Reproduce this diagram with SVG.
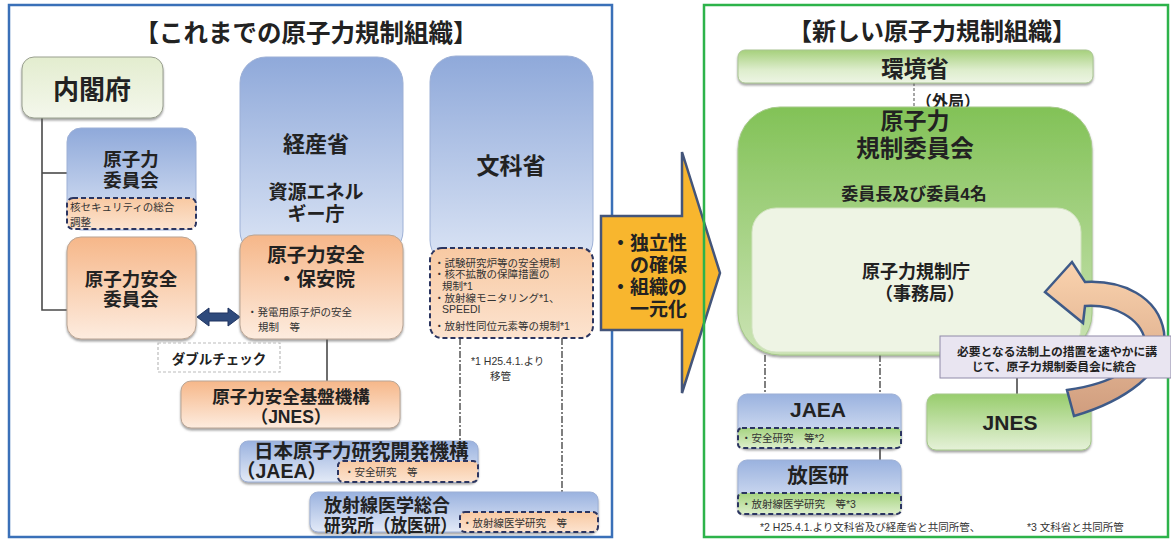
<svg xmlns="http://www.w3.org/2000/svg" width="1171" height="540" viewBox="0 0 1171 540">
<defs>
<linearGradient id="gBlue" x1="0" y1="0" x2="0" y2="1"><stop offset="0" stop-color="#8FA9DA"/><stop offset="1" stop-color="#DCE5F5"/></linearGradient>
<linearGradient id="gBlueS" x1="0" y1="0" x2="0" y2="1"><stop offset="0" stop-color="#9AB2DF"/><stop offset="1" stop-color="#E3EAF7"/></linearGradient>
<linearGradient id="gOrange" x1="0" y1="0" x2="0" y2="1"><stop offset="0" stop-color="#F6B789"/><stop offset="1" stop-color="#FDECDF"/></linearGradient>
<linearGradient id="gOrangeD" x1="0" y1="0" x2="0" y2="1"><stop offset="0" stop-color="#F8C9A2"/><stop offset="1" stop-color="#FCE3CF"/></linearGradient>
<linearGradient id="gCab" x1="0" y1="0" x2="0" y2="1"><stop offset="0" stop-color="#E3EDCF"/><stop offset="1" stop-color="#F4F7EC"/></linearGradient>
<linearGradient id="gEnv" x1="0" y1="0" x2="0" y2="1"><stop offset="0" stop-color="#A6D07C"/><stop offset="0.6" stop-color="#DDEDCC"/><stop offset="1" stop-color="#EDF5E4"/></linearGradient>
<linearGradient id="gNRA" x1="0" y1="0" x2="0" y2="1"><stop offset="0" stop-color="#82C257"/><stop offset="1" stop-color="#CBE3B4"/></linearGradient>
<linearGradient id="gGreen" x1="0" y1="0" x2="0" y2="1"><stop offset="0" stop-color="#98CD6D"/><stop offset="1" stop-color="#E5F1D8"/></linearGradient>
<linearGradient id="gGreenD" x1="0" y1="0" x2="0" y2="1"><stop offset="0" stop-color="#A6D480"/><stop offset="1" stop-color="#DCEECB"/></linearGradient>
<linearGradient id="gCurve" x1="0" y1="0" x2="0" y2="1"><stop offset="0" stop-color="#FAD3AE"/><stop offset="1" stop-color="#D09D7E"/></linearGradient>
<filter id="sh" x="-10%" y="-10%" width="120%" height="130%"><feDropShadow dx="0" dy="2" stdDeviation="1" flood-color="#555" flood-opacity="0.55"/></filter>
</defs>
<style>
text{font-family:"Liberation Sans","Noto Sans CJK JP",sans-serif;font-weight:bold;fill:#222;}
.c{text-anchor:middle;}
.e{text-anchor:end;}
.box{stroke:#9DB0D6;stroke-width:1;}
.obox{stroke:#B9A595;stroke-width:1;}
.dsh{stroke:#2B3560;stroke-width:2;stroke-dasharray:5,3;}
.ln{stroke:#4A4A4A;stroke-width:1.6;fill:none;}
.dl{stroke:#555;stroke-width:1.5;fill:none;stroke-dasharray:7,2,2,2;}
.sm{font-size:10.5px;font-weight:normal;fill:#333;}
</style>
<rect width="1171" height="540" fill="#FFFFFF"/>

<!-- left panel -->
<g id="panel-old">
<rect x="9" y="5" width="603" height="532" fill="none" stroke="#3A70B8" stroke-width="2.5"/>
<text x="306" y="42" class="c" font-size="24.5">【これまでの原子力規制組織】</text>
</g>

<g id="connectors">
<polyline class="ln" points="42,118 42,310 67,310"/>
<line class="ln" x1="42" y1="173" x2="67" y2="173"/>
<line class="ln" x1="327" y1="339" x2="327" y2="381"/>
<line class="dl" x1="460" y1="338" x2="460" y2="461"/>
<line class="dl" x1="562" y1="338" x2="562" y2="512"/>
<polygon points="197,317 209,308 209,313 228,313 228,308 240,317 228,326 228,321 209,321 209,326" fill="#2E4A7C" stroke="#1E3360" stroke-width="1"/>
<line x1="914" y1="83" x2="914" y2="107" stroke="#777" stroke-width="1.3" stroke-dasharray="3,2"/>
<line class="dl" x1="765" y1="355" x2="765" y2="428"/>
<line class="dl" x1="880" y1="355" x2="880" y2="394"/>
<line class="ln" x1="880" y1="448" x2="880" y2="493"/>
<line class="ln" x1="1017" y1="378" x2="1017" y2="394"/>
</g>

<g id="n-naikakufu">
<rect x="22" y="57" width="141" height="61" rx="12" fill="url(#gCab)" stroke="#9AA090" stroke-width="1" filter="url(#sh)"/>
<text x="92" y="99" class="c" font-size="26">内閣府</text>
</g>

<g id="n-aec">
<rect x="67" y="128" width="129" height="102" rx="14" fill="url(#gBlue)" class="box"/>
<text x="131" y="166" class="c" font-size="18.5">原子力</text>
<text x="131" y="187" class="c" font-size="18.5">委員会</text>
<rect x="67" y="198" width="129" height="31" rx="6" fill="url(#gOrangeD)" class="dsh"/>
<text x="70" y="211" class="sm" font-size="11">核セキュリティの総合</text>
<text x="70" y="226" class="sm" font-size="11">調整</text>
</g>

<g id="n-nsc">
<rect x="67" y="237" width="129" height="102" rx="14" fill="url(#gOrange)" class="obox" filter="url(#sh)"/>
<text x="131" y="286" class="c" font-size="18.5">原子力安全</text>
<text x="131" y="306" class="c" font-size="18.5">委員会</text>
</g>

<g id="n-meti">
<rect x="240" y="57" width="163" height="200" rx="26" fill="url(#gBlue)" class="box"/>
<text x="316" y="152" class="c" font-size="22">経産省</text>
<text x="316" y="199" class="c" font-size="19">資源エネル</text>
<text x="316" y="221" class="c" font-size="19">ギー庁</text>
</g>

<g id="n-nisa">
<rect x="240" y="235" width="163" height="104" rx="14" fill="url(#gOrange)" class="obox" filter="url(#sh)"/>
<text x="316" y="262" class="c" font-size="19.5">原子力安全</text>
<text x="316" y="286" class="c" font-size="19.5">・保安院</text>
<text x="247" y="316" class="sm" font-size="11.5">・発電用原子炉の安全</text>
<text x="258" y="331" class="sm" font-size="11.5">規制　等</text>
</g>

<g id="n-doublecheck">
<rect x="158" y="343" width="122" height="29" fill="#FFFFFF" stroke="#BBBBBB" stroke-width="1.2" stroke-dasharray="3,2"/>
<text x="219" y="364" class="c" font-size="13.5" font-weight="normal" fill="#333">ダブルチェック</text>
</g>

<g id="n-jnes-old">
<rect x="181" y="381" width="219" height="47" rx="10" fill="url(#gOrange)" class="obox" filter="url(#sh)"/>
<text x="291" y="403" class="c" font-size="17.5">原子力安全基盤機構</text>
<text x="291" y="423" class="c" font-size="17.5">（JNES）</text>
</g>

<g id="n-jaea-old">
<rect x="240" y="441" width="238" height="41" rx="8" fill="url(#gBlueS)" class="box" filter="url(#sh)"/>
<text x="254" y="458" font-size="19.5">日本原子力研究開発機構</text>
<text x="236" y="478" font-size="19.5">（JAEA）</text>
<rect x="338" y="461" width="140" height="21" rx="5" fill="url(#gOrangeD)" class="dsh"/>
<text x="344" y="476" class="sm" font-size="11">・安全研究　等</text>
</g>

<g id="n-nirs-old">
<rect x="310" y="492" width="288" height="40" rx="8" fill="url(#gBlueS)" class="box" filter="url(#sh)"/>
<text x="324" y="512" font-size="18">放射線医学総合</text>
<text x="324" y="532" font-size="18" textLength="133" lengthAdjust="spacingAndGlyphs">研究所（放医研）</text>
<rect x="460" y="512" width="138" height="20" rx="5" fill="url(#gOrangeD)" class="dsh"/>
<text x="462" y="527" class="sm" font-size="11.5">・放射線医学研究　等</text>
</g>

<g id="n-mext">
<rect x="430" y="56" width="163" height="210" rx="26" fill="url(#gBlue)" class="box"/>
<text x="511" y="174" class="c" font-size="23">文科省</text>
<rect x="430" y="248" width="163" height="90" rx="12" fill="url(#gOrangeD)" class="dsh"/>
<text x="434" y="267" class="sm">・試験研究炉等の安全規制</text>
<text x="434" y="278" class="sm">・核不拡散の保障措置の</text>
<text x="442" y="290" class="sm">規制*1</text>
<text x="434" y="302" class="sm">・放射線モニタリング*1、</text>
<text x="442" y="313" class="sm">SPEEDI</text>
<text x="434" y="330" class="sm">・放射性同位元素等の規制*1</text>
<text x="471" y="365" class="sm" font-size="11">*1 H25.4.1.より</text>
<text x="490" y="380" class="sm" font-size="11">移管</text>
</g>

<!-- big arrow -->
<g id="n-bigarrow">
<polygon points="601,216 682,216 682,152 720,273 682,393 682,330 601,330" fill="#F8B62E" stroke="#44557A" stroke-width="2.5" stroke-linejoin="miter"/>
<text x="687" y="250" class="e" font-size="19">・独立性</text>
<text x="687" y="272" class="e" font-size="19">の確保</text>
<text x="687" y="294" class="e" font-size="19">・組織の</text>
<text x="687" y="316" class="e" font-size="19">一元化</text>
</g>

<!-- right panel -->
<g id="panel-new">
<rect x="704" y="5" width="464" height="532" fill="none" stroke="#2DB34A" stroke-width="2.5"/>
<text x="932" y="40" class="c" font-size="24">【新しい原子力規制組織】</text>
</g>

<g id="n-env">
<rect x="738" y="50" width="355" height="33" rx="7" fill="url(#gEnv)" stroke="#A9C592" stroke-width="1" filter="url(#sh)"/>
<text x="915" y="77" class="c" font-size="22.5">環境省</text>
<text x="916" y="107" font-size="16" font-weight="normal" fill="#555">（外局）</text>
</g>

<g id="n-nra">
<rect x="738" y="107" width="354" height="248" rx="42" fill="url(#gNRA)" stroke="#A6C98A" stroke-width="1" filter="url(#sh)"/>
<text x="915" y="129" class="c" font-size="23">原子力</text>
<text x="915" y="157" class="c" font-size="23.5">規制委員会</text>
<text x="914" y="200" class="c" font-size="17">委員長及び委員4名</text>
<rect x="752" y="208" width="329" height="144" rx="24" fill="#EEF4E4" stroke="#D2E3C0" stroke-width="1"/>
<text x="916" y="278" class="c" font-size="18">原子力規制庁</text>
<text x="920" y="300" class="c" font-size="18">（事務局）</text>
</g>

<g id="n-jaea-new">
<rect x="738" y="394" width="163" height="54" rx="9" fill="url(#gBlueS)" class="box" filter="url(#sh)"/>
<text x="818" y="417" class="c" font-size="21">JAEA</text>
<rect x="738" y="428" width="163" height="20" rx="4" fill="url(#gGreenD)" class="dsh"/>
<text x="741" y="442" class="sm" font-size="11">・安全研究　等*2</text>
</g>

<g id="n-nirs-new">
<rect x="738" y="460" width="163" height="54" rx="9" fill="url(#gBlueS)" class="box" filter="url(#sh)"/>
<text x="818" y="483" class="c" font-size="20.5">放医研</text>
<rect x="738" y="493" width="163" height="21" rx="4" fill="url(#gGreenD)" class="dsh"/>
<text x="741" y="508" class="sm" font-size="11">・放射線医学研究　等*3</text>
</g>

<g id="n-jnes-new">
<rect x="927" y="394" width="164" height="56" rx="9" fill="url(#gGreen)" stroke="#A6C98A" stroke-width="1" filter="url(#sh)"/>
<text x="1010" y="430" class="c" font-size="21">JNES</text>
</g>

<g id="n-curvearrow">
<path d="M1074,416 C1122,402 1170,372 1164,332 C1158,296 1122,280 1085,282 L1072,262 L1045,292 L1083,323 L1085,306 C1114,304 1140,318 1145,340 C1147,364 1112,384 1067,390 Z" fill="url(#gCurve)" stroke="#3E5A88" stroke-width="2.5" stroke-linejoin="miter"/>
</g>

<g id="n-note">
<rect x="940" y="336" width="231" height="42" fill="#E9E5F1" stroke="#8F8AA8" stroke-width="1"/>
<text x="1057" y="356" class="c" font-size="11.8" fill="#333">必要となる法制上の措置を速やかに講</text>
<text x="1054" y="371" class="c" font-size="11.8" fill="#333">じて、原子力規制委員会に統合</text>
</g>

<g id="footnote">
<text x="760" y="531" class="sm" font-size="10">*2 H25.4.1.より文科省及び経産省と共同所管、</text>
<text x="1027" y="531" class="sm" font-size="10">*3  文科省と共同所管</text>
</g>
</svg>
